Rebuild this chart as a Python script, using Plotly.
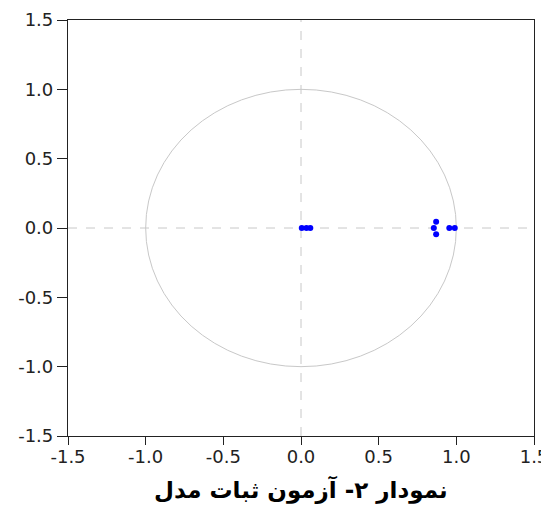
import plotly.graph_objects as go

root_re = [0.005, 0.035, 0.06, 0.87, 0.855, 0.87, 0.955, 0.99]
root_im = [0.0, 0.0, 0.0, 0.045, 0.0, -0.045, 0.0, 0.0]
tick_vals = [-1.5, -1.0, -0.5, 0.0, 0.5, 1.0, 1.5]
tick_text = ["-1.5", "-1.0", "-0.5", "0.0", "0.5", "1.0", "1.5"]
title_text = "نمودار ۲- آزمون ثبات مدل"

fig = go.Figure()
fig.add_trace(go.Scatter(x=root_re, y=root_im, mode="markers",
                         marker=dict(color="#0000ff", size=6), showlegend=False))

fig.add_shape(type="circle", xref="x", yref="y", x0=-1, y0=-1, x1=1, y1=1,
              line=dict(color="#c8c8c8", width=1), layer="below")
fig.add_shape(type="line", xref="x", yref="y", x0=-1.5, x1=1.5, y0=0, y1=0,
              line=dict(color="#c8c8c8", width=1, dash="dash"), layer="below")
fig.add_shape(type="line", xref="x", yref="y", x0=0, x1=0, y0=-1.5, y1=1.5,
              line=dict(color="#c8c8c8", width=1, dash="dash"), layer="below")

axis_common = dict(range=[-1.5, 1.5], tickvals=tick_vals, ticktext=tick_text,
                   showgrid=False, zeroline=False, showline=True, mirror=True,
                   linecolor="#222222", linewidth=1.2, ticks="outside",
                   tickcolor="#222222", tickwidth=1.2, automargin=False,
                   tickfont=dict(family="DejaVu Sans", size=18, color="#222222"))
fig.update_xaxes(ticklen=8, ticklabelstandoff=-4, **axis_common)
fig.update_yaxes(ticklen=10, **axis_common)

fig.add_annotation(text="<b>" + title_text + "</b>", xref="paper", yref="paper",
                   x=0.5, y=-0.128, xanchor="center", yanchor="middle", showarrow=False,
                   font=dict(family="DejaVu Sans, Noto Sans", size=23, color="#000000"))

fig.update_layout(width=541, height=503, margin=dict(l=60, r=15, t=12, b=75),
                  plot_bgcolor="white", paper_bgcolor="white")
fig.write_html("out.html")
